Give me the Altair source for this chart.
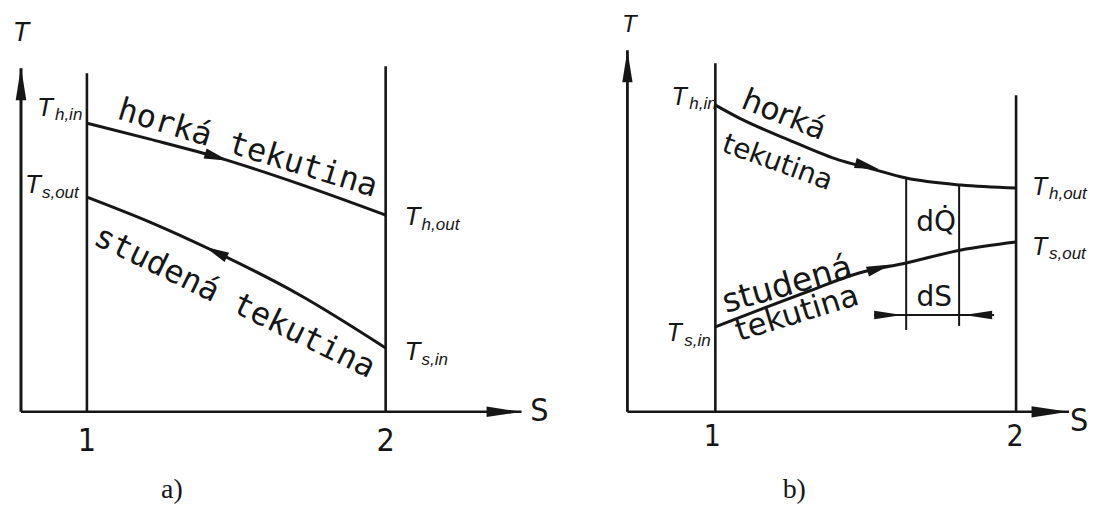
import altair as alt
import pandas as pd

INK = "#161616"
HAND = "DejaVu Sans"
HAND_MONO = "DejaVu Sans Mono"
ITAL = "Liberation Sans"
NARROW = "Liberation Sans Narrow, DejaVu Sans Condensed, sans-serif"
SERIF = "Liberation Serif, Times New Roman, serif"

# ---------------- common scale ranges (S = position, T = temperature) ----------------
T_DOMAIN = [-10.7, 40.4]
A_S_DOMAIN = [0.7358, 2.5418]
B_S_DOMAIN = [0.47508, 2.2392]

# ---------------- panel a) counter-flow ----------------
a_yaxis_S = 0.7793
a_yaxis_top = 34.4
a_xaxis_end = 2.4548
a_bound_S = [1.0, 2.0]
a_bound_top = [33.9, 34.6]
a_hot_S = [1.0, 1.2107, 1.4348, 1.7124, 2.0]
a_hot_T = [28.9, 27.3, 25.5, 22.8, 19.7]
a_cold_S = [1.0, 1.2107, 1.4314, 1.7124, 2.0]
a_cold_T = [21.5, 19.0, 16.0, 11.7, 6.4]
a_arrow_hot = [1.4348, 25.5]
a_arrow_cold = [1.4314, 16.0]
a_arrow_y = [0.7793, 32.85]
a_arrow_x = [2.3963, 0.0]
a_curve_text = ["horká tekutina", "studená tekutina"]
a_curve_text_S = [1.5385, 1.495]
a_curve_text_T = [26.4, 11.0]
a_Tmain_S = [0.8328, 0.7926, 2.0635, 2.0635]
a_Tmain_T = [30.4, 22.7, 19.5, 6.0]
a_Tsub_text = ["h,in", "s,out", "h,out", "s,in"]
a_Tsub_S = [0.893, 0.8495, 2.1204, 2.1204]
a_Tsub_T = [29.7, 21.9, 18.7, 5.2]
a_ticks = ["1", "2"]
a_ticks_S = [1.0, 2.0]
a_ticks_T = [-2.9, -2.9]
a_Tlabel = [0.7793, 37.9]
a_Slabel = [2.515, 0.1]
a_caption = [1.2843, -7.8]

# ---------------- panel b) parallel flow ----------------
b_yaxis_S = 0.7076
b_yaxis_top = 36.2
b_xaxis_end = 2.1761
b_bound_S = [1.0, 2.0]
b_bound_top = [34.9, 31.7]
b_hot_S = [1.0, 1.0797, 1.2458, 1.4120, 1.5116, 1.6346, 1.8173, 2.0]
b_hot_T = [30.7, 29.4, 27.2, 25.2, 24.4, 23.4, 22.7, 22.4]
b_cold_S = [1.0, 1.1462, 1.3123, 1.4784, 1.6346, 1.8173, 2.0]
b_cold_T = [8.5, 10.2, 12.1, 13.9, 14.9, 16.2, 17.0]
b_box_S = [1.6346, 1.8106]
b_box_top = [23.4, 22.8]
b_box_bottom = [8.2, 8.6]
b_dS_line = [1.5282, 1.9269, 9.7]
b_arrow_hot = [1.505, 24.6]
b_arrow_cold = [1.5449, 14.4]
b_arrow_dS = [[1.5748, 9.7], [1.8738, 9.7]]
b_arrow_y = [0.7076, 34.6]
b_arrow_x = [2.1130, 0.0]
b_words = ["horká", "tekutina", "studená", "tekutina"]
b_words_S = [1.2276, 1.206, 1.2392, 1.2724]
b_words_T = [29.65, 24.9, 12.7, 9.8]
b_dQ = [1.7342, 18.9]
b_dS = [1.7276, 11.4]
b_Tmain_S = [0.8538, 0.8372, 2.0532, 2.0532]
b_Tmain_T = [31.5, 7.9, 22.5, 16.5]
b_Tsub_text = ["h,in", "s,in", "h,out", "s,out"]
b_Tsub_S = [0.9136, 0.897, 2.1096, 2.1096]
b_Tsub_T = [30.8, 7.1, 21.8, 15.8]
b_ticks = ["1", "2"]
b_ticks_S = [0.99, 1.9967]
b_ticks_T = [-2.5, -2.5]
b_Tlabel = [0.7143, 38.7]
b_Slabel = [2.2093, -0.9]
b_caption = [1.2625, -7.8]

UP = "M0,-1L0.32,1L-0.32,1Z"
RIGHT = "M1,0L-1,-0.3L-1,0.3Z"
FAT = "M1,0L-1,-0.42L-1,0.42Z"


def X(dom, f="S"):
    return alt.X(f"{f}:Q", scale=alt.Scale(domain=dom, nice=False, zero=False), axis=None)


def Y(f="T"):
    return alt.Y(f"{f}:Q", scale=alt.Scale(domain=T_DOMAIN, nice=False, zero=False), axis=None)


def pts(S, T, **extra):
    d = {"S": S, "T": T}
    d.update(extra)
    return pd.DataFrame(d)


def vrules(dom, S, T, T2, width):
    return alt.Chart(pd.DataFrame({"S": S, "T": T, "T2": T2})).mark_rule(
        color=INK, strokeWidth=width).encode(x=X(dom), y=Y(), y2=alt.Y2("T2:Q"))


def hrule(dom, S, S2, T, width):
    return alt.Chart(pd.DataFrame({"S": [S], "S2": [S2], "T": [T]})).mark_rule(
        color=INK, strokeWidth=width).encode(x=X(dom), x2=alt.X2("S2:Q"), y=Y())


def curve(dom, S, T):
    return alt.Chart(pts(S, T, o=list(range(len(S))))).mark_line(
        color=INK, strokeWidth=3, interpolate="monotone").encode(x=X(dom), y=Y(), order="o:Q")


def arrow(dom, p, shape, size, angle=0):
    return alt.Chart(pts([p[0]], [p[1]])).mark_point(
        shape=shape, size=size, angle=angle, filled=True, color=INK, opacity=1, strokeWidth=0
    ).encode(x=X(dom), y=Y())


def text(dom, S, T, labels, font, size, angle=0, align="center", style="normal"):
    return alt.Chart(pts(S, T, label=labels)).mark_text(
        font=font, fontSize=size, angle=angle, align=align, baseline="middle",
        color=INK, fontStyle=style).encode(x=X(dom), y=Y(), text="label:N")


# ---------------- build panel a ----------------
A = A_S_DOMAIN
panel_a = alt.layer(
    vrules(A, [a_yaxis_S], [0], [a_yaxis_top], 3),
    hrule(A, a_yaxis_S, a_xaxis_end, 0, 2.5),
    vrules(A, a_bound_S, [0, 0], a_bound_top, 2.6),
    curve(A, a_hot_S, a_hot_T),
    curve(A, a_cold_S, a_cold_T),
    arrow(A, a_arrow_hot, FAT, 600, 17),
    arrow(A, a_arrow_cold, FAT, 600, 206),
    arrow(A, a_arrow_y, UP, 1100),
    arrow(A, a_arrow_x, RIGHT, 1225),
    text(A, [a_curve_text_S[0]], [a_curve_text_T[0]], [a_curve_text[0]], HAND_MONO, 32, 17),
    text(A, [a_curve_text_S[1]], [a_curve_text_T[1]], [a_curve_text[1]], HAND_MONO, 32, 26),
    text(A, a_Tmain_S, a_Tmain_T, ["T"] * 4, ITAL, 26, align="left", style="italic"),
    text(A, a_Tsub_S, a_Tsub_T, a_Tsub_text, ITAL, 17, align="left", style="italic"),
    text(A, a_ticks_S, a_ticks_T, a_ticks, NARROW, 32),
    text(A, [a_Tlabel[0]], [a_Tlabel[1]], ["T"], ITAL, 27, style="italic"),
    text(A, [a_Slabel[0]], [a_Slabel[1]], ["S"], NARROW, 32),
    text(A, [a_caption[0]], [a_caption[1]], ["a)"], SERIF, 28),
).properties(width=540, height=511)

# ---------------- build panel b ----------------
B = B_S_DOMAIN
panel_b = alt.layer(
    vrules(B, [b_yaxis_S], [0], [b_yaxis_top], 2.8),
    hrule(B, b_yaxis_S, b_xaxis_end, 0, 2.5),
    vrules(B, b_bound_S, [0, 0], b_bound_top, 2.6),
    vrules(B, b_box_S, b_box_bottom, b_box_top, 2),
    hrule(B, b_dS_line[0], b_dS_line[1], b_dS_line[2], 2),
    curve(B, b_hot_S, b_hot_T),
    curve(B, b_cold_S, b_cold_T),
    arrow(B, b_arrow_hot, FAT, 600, 15),
    arrow(B, b_arrow_cold, FAT, 600, 343),
    arrow(B, b_arrow_dS[0], RIGHT, 784, 0),
    arrow(B, b_arrow_dS[1], RIGHT, 784, 180),
    arrow(B, b_arrow_y, UP, 1024),
    arrow(B, b_arrow_x, RIGHT, 1369),
    text(B, [b_words_S[0]], [b_words_T[0]], [b_words[0]], HAND, 31, 22),
    text(B, [b_words_S[1]], [b_words_T[1]], [b_words[1]], HAND, 28, 20),
    text(B, [b_words_S[2]], [b_words_T[2]], [b_words[2]], HAND, 33, 344),
    text(B, [b_words_S[3]], [b_words_T[3]], [b_words[3]], HAND, 31, 343),
    text(B, [b_dQ[0]], [b_dQ[1]], ["dQ\u0307"], HAND, 28),
    text(B, [b_dS[0]], [b_dS[1]], ["dS"], HAND, 28),
    text(B, b_Tmain_S, b_Tmain_T, ["T"] * 4, ITAL, 25, align="left", style="italic"),
    text(B, b_Tsub_S, b_Tsub_T, b_Tsub_text, ITAL, 17, align="left", style="italic"),
    text(B, b_ticks_S, b_ticks_T, b_ticks, NARROW, 30),
    text(B, [b_Tlabel[0]], [b_Tlabel[1]], ["T"], ITAL, 24, style="italic"),
    text(B, [b_Slabel[0]], [b_Slabel[1]], ["S"], NARROW, 32),
    text(B, [b_caption[0]], [b_caption[1]], ["b)"], SERIF, 28),
).properties(width=531, height=511)

chart = alt.hconcat(panel_a, panel_b, spacing=10, bounds="flush").properties(
    padding=0, background="white"
).configure_view(stroke=None)

chart.save("out.html", embed_options={"renderer": "svg", "actions": False})
